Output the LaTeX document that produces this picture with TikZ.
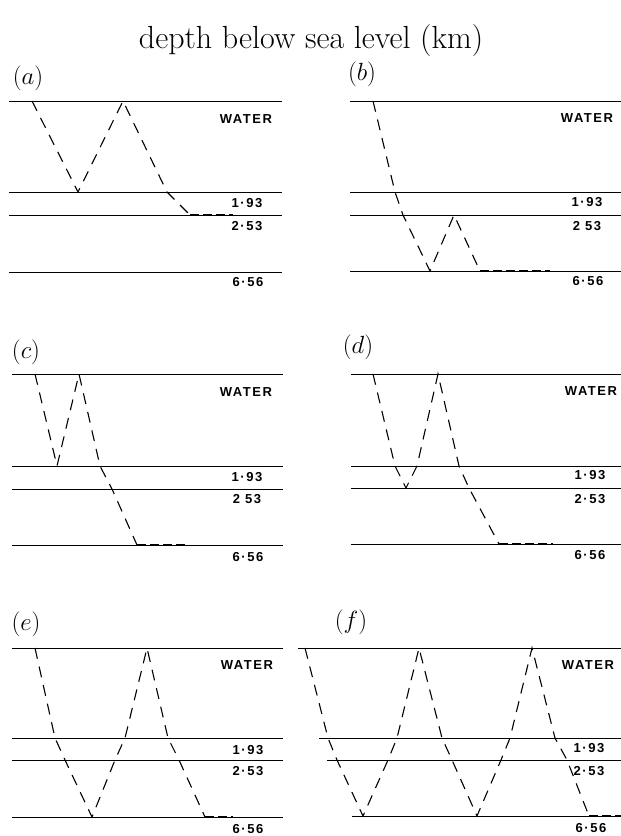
\documentclass[tikz,border=0pt]{standalone}
\usepackage{fontspec}
\newfontfamily\labfont[LetterSpace=12]{Liberation Sans}
\begin{document}
\begin{tikzpicture}[x=1pt,y=-1pt,
  layer/.style={line width=1pt},
  ray/.style={line width=1.1pt, dash pattern=on 11pt off 8pt},
  headwave/.style={line width=2.8pt, dash pattern=on 9pt off 4pt, yshift=-0.8pt},
  lab/.style={font=\labfont\bfseries\fontsize{13}{15}\selectfont, inner sep=0pt},
  tag/.style={font=\fontsize{26}{30}\selectfont, inner sep=0pt},
  ttl/.style={font=\fontsize{32}{36}\selectfont, inner sep=0pt}]
\useasboundingbox (0,0) rectangle (621,836);

\node[ttl] (title) at (311,41) {depth below sea level (km)};

% ---------------- panel (a)
\node[tag] (ta) at (28,78) {$(a)$};
\draw[layer] (9,101) -- (282,101);
\draw[layer] (9,192) -- (282,192);
\draw[layer] (9,215) -- (282,215);
\draw[layer] (9,272) -- (282,272);
\node[lab] (wa) at (246,119) {WATER};
\node[lab] (la1) at (247,203) {1·93};
\node[lab] (la2) at (247,226) {2·53};
\node[lab] (la3) at (248,282) {6·56};
\coordinate (a0) at (32,101);
\coordinate (a1) at (78,192);
\coordinate (a2) at (123,101);
\coordinate (a3) at (167,192);
\coordinate (a4) at (190,215);
\coordinate (a5) at (233,215);
\draw[ray] (a0) -- (a1) -- (a2) -- (a3) -- (a4);
\draw[headwave] (a4) -- (a5);

% ---------------- panel (b)
\node[tag] (tb) at (362,74) {$(b)$};
\draw[layer] (350,101) -- (621,101);
\draw[layer] (350,192) -- (621,192);
\draw[layer] (350,215) -- (621,215);
\draw[layer] (350,271) -- (621,271);
\node[lab] (wb) at (587,118) {WATER};
\node[lab] (lb1) at (587,202) {1·93};
\node[lab] (lb2) at (587,226) {2 53};
\node[lab] (lb3) at (588,281) {6·56};
\coordinate (b0) at (373,101);
\coordinate (b1) at (395,192);
\coordinate (b2) at (403,215);
\coordinate (b3) at (430,271);
\coordinate (b4) at (454,215);
\coordinate (b5) at (480,271);
\coordinate (b6) at (550,271);
\draw[ray] (b0) -- (b1) -- (b2) -- (b3) -- (b4) -- (b5);
\draw[headwave] (b5) -- (b6);

% ---------------- panel (c)
\node[tag] (tc) at (26,352) {$(c)$};
\draw[layer] (12,374) -- (283,374);
\draw[layer] (12,466) -- (283,466);
\draw[layer] (12,489) -- (283,489);
\draw[layer] (12,545) -- (283,545);
\node[lab] (wc) at (246,392) {WATER};
\node[lab] (lc1) at (247,477) {1·93};
\node[lab] (lc2) at (247,499) {2 53};
\node[lab] (lc3) at (248,557) {6·56};
\coordinate (c0) at (35,374);
\coordinate (c1) at (57,466);
\coordinate (c2) at (79,374);
\coordinate (c3) at (100,466);
\coordinate (c4) at (112,489);
\coordinate (c5) at (137,545);
\coordinate (c6) at (188,545);
\draw[ray] (c0) -- (c1) -- (c2) -- (c3) -- (c4) -- (c5);
\draw[headwave] (c5) -- (c6);

% ---------------- panel (d)
\node[tag] (td) at (358,347) {$(d)$};
\draw[layer] (351,374) -- (621,374);
\draw[layer] (351,466) -- (621,466);
\draw[layer] (351,488) -- (621,488);
\draw[layer] (351,544) -- (621,544);
\node[lab] (wd) at (591,391) {WATER};
\node[lab] (ld1) at (590,475) {1·93};
\node[lab] (ld2) at (590,499) {2·53};
\node[lab] (ld3) at (590,555) {6·56};
\coordinate (d0) at (373,374);
\coordinate (d1) at (395,466);
\coordinate (d2) at (406,488);
\coordinate (d3) at (417,466);
\coordinate (d4) at (438,374);
\coordinate (d5) at (459,466);
\coordinate (d6) at (469,488);
\coordinate (d7) at (499,544);
\coordinate (d8) at (553,544);
\draw[ray] (d0) -- (d1) -- (d2) -- (d3) -- (d4) -- (d5) -- (d6) -- (d7);
\draw[headwave] (d7) -- (d8);

% ---------------- panel (e)
\node[tag] (te) at (26,624) {$(e)$};
\draw[layer] (12,648) -- (283,648);
\draw[layer] (12,738) -- (283,738);
\draw[layer] (12,760) -- (283,760);
\draw[layer] (12,817) -- (283,817);
\node[lab] (we) at (247,665) {WATER};
\node[lab] (le1) at (248,750) {1·93};
\node[lab] (le2) at (248,771) {2·53};
\node[lab] (le3) at (248,829) {6·56};
\coordinate (e0) at (35,648);
\coordinate (e1) at (55,738);
\coordinate (e2) at (65,760);
\coordinate (e3) at (92,817);
\coordinate (e4) at (115,760);
\coordinate (e5) at (125,738);
\coordinate (e6) at (147,648);
\coordinate (e7) at (168,738);
\coordinate (e8) at (179,760);
\coordinate (e9) at (205,817);
\coordinate (e10) at (233,817);
\draw[ray] (e0) -- (e1) -- (e2) -- (e3) -- (e4) -- (e5) -- (e6) -- (e7) -- (e8) -- (e9);
\draw[headwave] (e9) -- (e10);

% ---------------- panel (f)
\node[tag] (tf) at (351,622) {$(f)$};
\draw[layer] (298,648) -- (621,648);
\draw[layer] (319,738) -- (621,738);
\draw[layer] (327,760) -- (621,760);
\draw[layer] (352,816) -- (621,816);
\node[lab] (wf) at (588,665) {WATER};
\node[lab] (lf1) at (589,748) {1·93};
\node[lab] (lf2) at (589,771) {2·53};
\node[lab] (lf3) at (591,828) {6·56};
\coordinate (f0) at (305,648);
\coordinate (f1) at (328,738);
\coordinate (f2) at (337,760);
\coordinate (f3) at (363,816);
\coordinate (f4) at (388,760);
\coordinate (f5) at (397,738);
\coordinate (f6) at (419,648);
\coordinate (f7) at (442,738);
\coordinate (f8) at (452,760);
\coordinate (f9) at (477,816);
\coordinate (f10) at (501,760);
\coordinate (f11) at (510,738);
\coordinate (f12) at (532,648);
\coordinate (f13) at (555,738);
\coordinate (f14) at (567,760);
\coordinate (f15) at (589,816);
\coordinate (f16) at (621,816);
\draw[ray] (f0) -- (f1) -- (f2) -- (f3) -- (f4) -- (f5) -- (f6) -- (f7) -- (f8) -- (f9) -- (f10) -- (f11) -- (f12) -- (f13) -- (f14) -- (f15);
\draw[headwave] (f15) -- (f16);
\end{tikzpicture}
\end{document}
